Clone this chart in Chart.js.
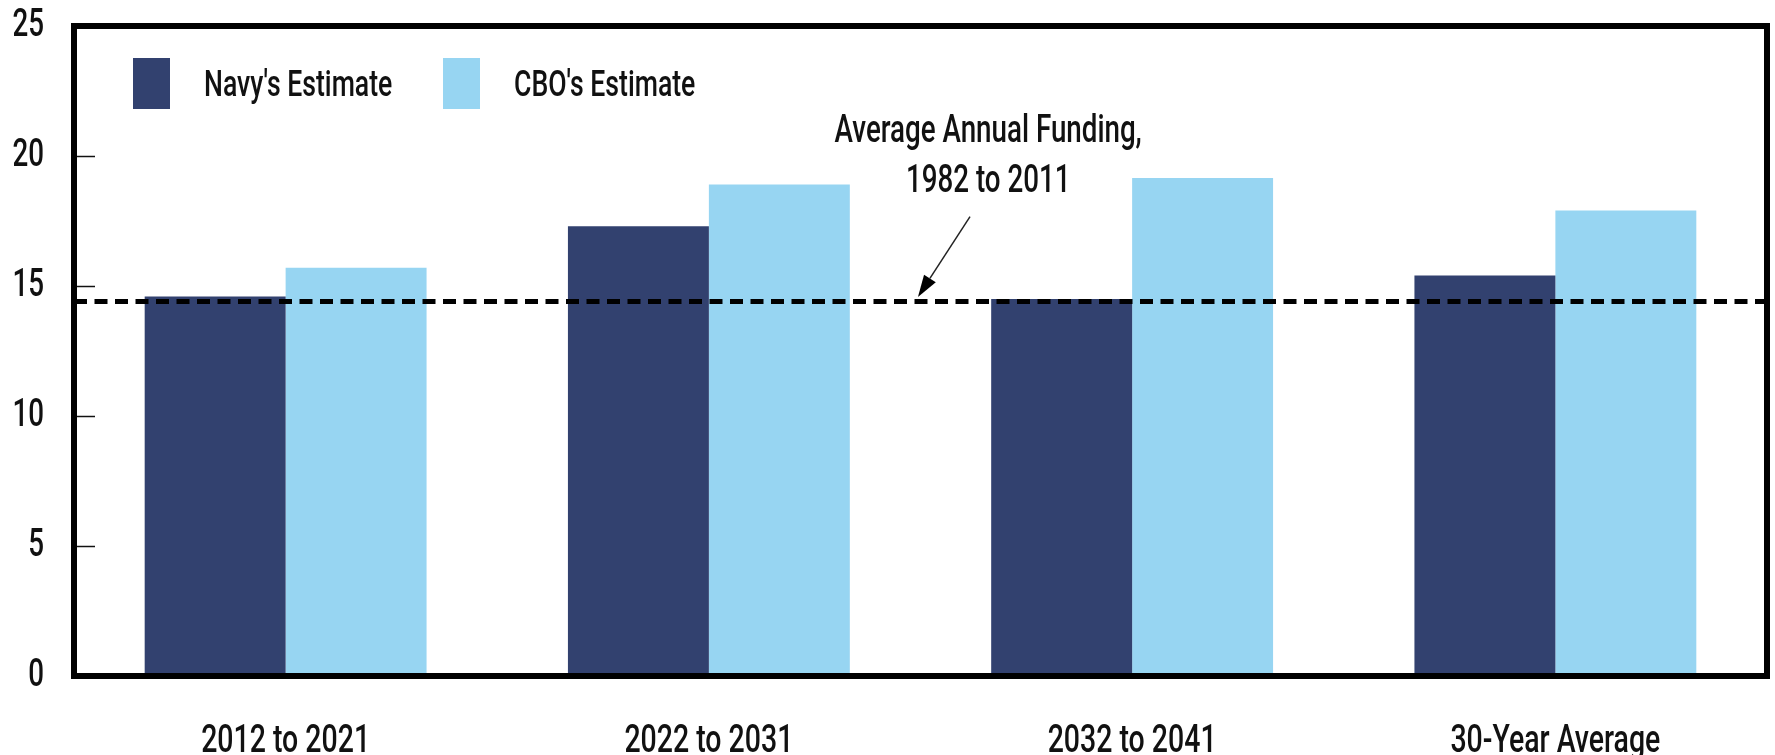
<!DOCTYPE html>
<html>
<head>
<meta charset="utf-8">
<script src="https://cdn.jsdelivr.net/npm/chart.js@4.4.1/dist/chart.umd.min.js"></script>
<style>
  html, body { margin: 0; padding: 0; background: #ffffff; overflow: hidden; }
  #wrap { position: relative; width: 1775px; height: 755px; }
  #legend { position: absolute; left: 0; top: 0; width: 0; height: 0; }
  .item { position: absolute; top: 58px; height: 51px; display: flex; align-items: center; }
  .box { width: 37px; height: 51px; flex: none; }
  .txt { margin-left: 34px; font-family: Roboto, 'DejaVu Sans Condensed', sans-serif; font-weight: 500;
         font-size: 37px; color: #111; white-space: nowrap; transform: scaleX(0.72); transform-origin: left center; }
</style>
</head>
<body>
<div id="wrap">
  <canvas id="c"></canvas>
  <div id="legend"></div>
</div>
<script>
// ---- data ----
const categories = ['2012 to 2021', '2022 to 2031', '2032 to 2041', '30-Year Average'];
const navyEstimate = [14.6, 17.3, 14.5, 15.4];
const cboEstimate = [15.7, 18.9, 19.15, 17.9];
const averageFunding = 14.4;
const yTickValues = [0, 5, 10, 15, 20, 25];
const seriesNames = ["Navy's Estimate", "CBO's Estimate"];
const annotationLines = ['Average Annual Funding,', '1982 to 2011'];

const FONT = "Roboto, 'DejaVu Sans Condensed', sans-serif";
const NAVY = '#32416F';
const LIGHT = '#97D5F2';
const TEXT_SQUEEZE = 0.73;

// condensed text rendering: every canvas label is drawn horizontally squeezed
const canvas = document.getElementById('c');
const ctx2d = canvas.getContext('2d');
const nativeFillText = ctx2d.fillText;
ctx2d.fillText = function (text, x, y, maxWidth) {
  this.save();
  this.translate(x, y);
  this.scale(TEXT_SQUEEZE, 1);
  if (maxWidth === undefined || maxWidth === null) nativeFillText.call(this, text, 0, 0);
  else nativeFillText.call(this, text, 0, 0, maxWidth / TEXT_SQUEEZE);
  this.restore();
};

const decor = {
  id: 'decor',
  afterDatasetsDraw(chart, args, opts) {
    const { ctx, chartArea: a, scales: { x, y } } = chart;
    ctx.save();
    // dashed reference line
    const ly = y.getPixelForValue(averageFunding);
    ctx.strokeStyle = '#000';
    ctx.lineWidth = 5;
    ctx.setLineDash([13, 7.5]);
    ctx.beginPath();
    ctx.moveTo(a.left, ly);
    ctx.lineTo(a.right, ly);
    ctx.stroke();
    ctx.setLineDash([]);
    // inner tick marks
    ctx.lineWidth = 1.5;
    ctx.strokeStyle = '#111';
    y.ticks.forEach(t => {
      if (t.value > y.min && t.value < y.max) {
        const py = Math.round(y.getPixelForValue(t.value)) + 0.5;
        ctx.beginPath();
        ctx.moveTo(a.left, py);
        ctx.lineTo(a.left + 21, py);
        ctx.stroke();
      }
    });
    // frame
    ctx.lineWidth = 6;
    ctx.strokeStyle = '#000';
    ctx.strokeRect(a.left, a.top, a.right - a.left, a.bottom - a.top);
    // arrow
    const x1 = x.getPixelForValue(opts.arrowFrom[0]), y1 = y.getPixelForValue(opts.arrowFrom[1]);
    const x2 = x.getPixelForValue(opts.arrowTo[0]), y2 = y.getPixelForValue(opts.arrowTo[1]);
    const ang = Math.atan2(y2 - y1, x2 - x1);
    const hl = 22, hw = 7;
    const bx = x2 - hl * Math.cos(ang), by = y2 - hl * Math.sin(ang);
    ctx.lineWidth = 1.5;
    ctx.strokeStyle = '#222';
    ctx.beginPath();
    ctx.moveTo(x1, y1);
    ctx.lineTo(bx, by);
    ctx.stroke();
    ctx.fillStyle = '#000';
    ctx.beginPath();
    ctx.moveTo(x2, y2);
    ctx.lineTo(bx + hw * Math.sin(ang), by - hw * Math.cos(ang));
    ctx.lineTo(bx - hw * Math.sin(ang), by + hw * Math.cos(ang));
    ctx.closePath();
    ctx.fill();
    // annotation text
    ctx.fillStyle = '#111';
    ctx.font = '500 38px ' + FONT;
    ctx.textAlign = 'center';
    ctx.textBaseline = 'alphabetic';
    const tx = x.getPixelForValue(opts.textX);
    annotationLines.forEach((line, i) => {
      ctx.fillText(line, tx, y.getPixelForValue(opts.textBaselines[i]));
    });
    ctx.restore();
  }
};

const chart = new Chart(canvas, {
  type: 'bar',
  data: {
    labels: categories,
    datasets: [
      { label: seriesNames[0], data: navyEstimate, backgroundColor: NAVY, borderWidth: 0 },
      { label: seriesNames[1], data: cboEstimate, backgroundColor: LIGHT, borderWidth: 0 }
    ]
  },
  options: {
    responsive: true,
    maintainAspectRatio: false,
    animation: false,
    layout: { padding: { left: 0, right: 8, top: 26, bottom: 0 } },
    datasets: { bar: { categoryPercentage: 0.666, barPercentage: 1.0 } },
    plugins: {
      legend: { display: false },
      tooltip: { enabled: false },
      decor: {
        arrowFrom: [1.617, 17.67],
        arrowTo: [1.494, 14.58],
        textX: 1.66,
        textBaselines: [20.55, 18.63]
      }
    },
    scales: {
      x: {
        grid: { display: false },
        border: { display: false },
        ticks: { color: '#111', font: { family: FONT, size: 39, weight: 500 }, padding: 35, maxRotation: 0, autoSkip: false },
        afterFit(scale) { scale.height = 79; }
      },
      y: {
        min: 0,
        max: 25,
        grid: { display: false, drawTicks: false },
        border: { display: false },
        afterBuildTicks(scale) { scale.ticks = yTickValues.map(v => ({ value: v })); },
        ticks: { color: '#111', font: { family: FONT, size: 38, weight: 500 }, padding: 30 },
        afterFit(scale) { scale.width = 74; scale.paddingTop = 0; scale.paddingBottom = 0; }
      }
    }
  },
  plugins: [decor]
});

// HTML legend built from the chart's datasets
const legendEl = document.getElementById('legend');
const legendLefts = [133, 443];
chart.data.datasets.forEach((ds, i) => {
  const item = document.createElement('div');
  item.className = 'item';
  item.style.left = legendLefts[i] + 'px';
  const box = document.createElement('div');
  box.className = 'box';
  box.style.background = ds.backgroundColor;
  const txt = document.createElement('span');
  txt.className = 'txt';
  txt.textContent = ds.label;
  item.appendChild(box);
  item.appendChild(txt);
  legendEl.appendChild(item);
});
</script>
</body>
</html>
